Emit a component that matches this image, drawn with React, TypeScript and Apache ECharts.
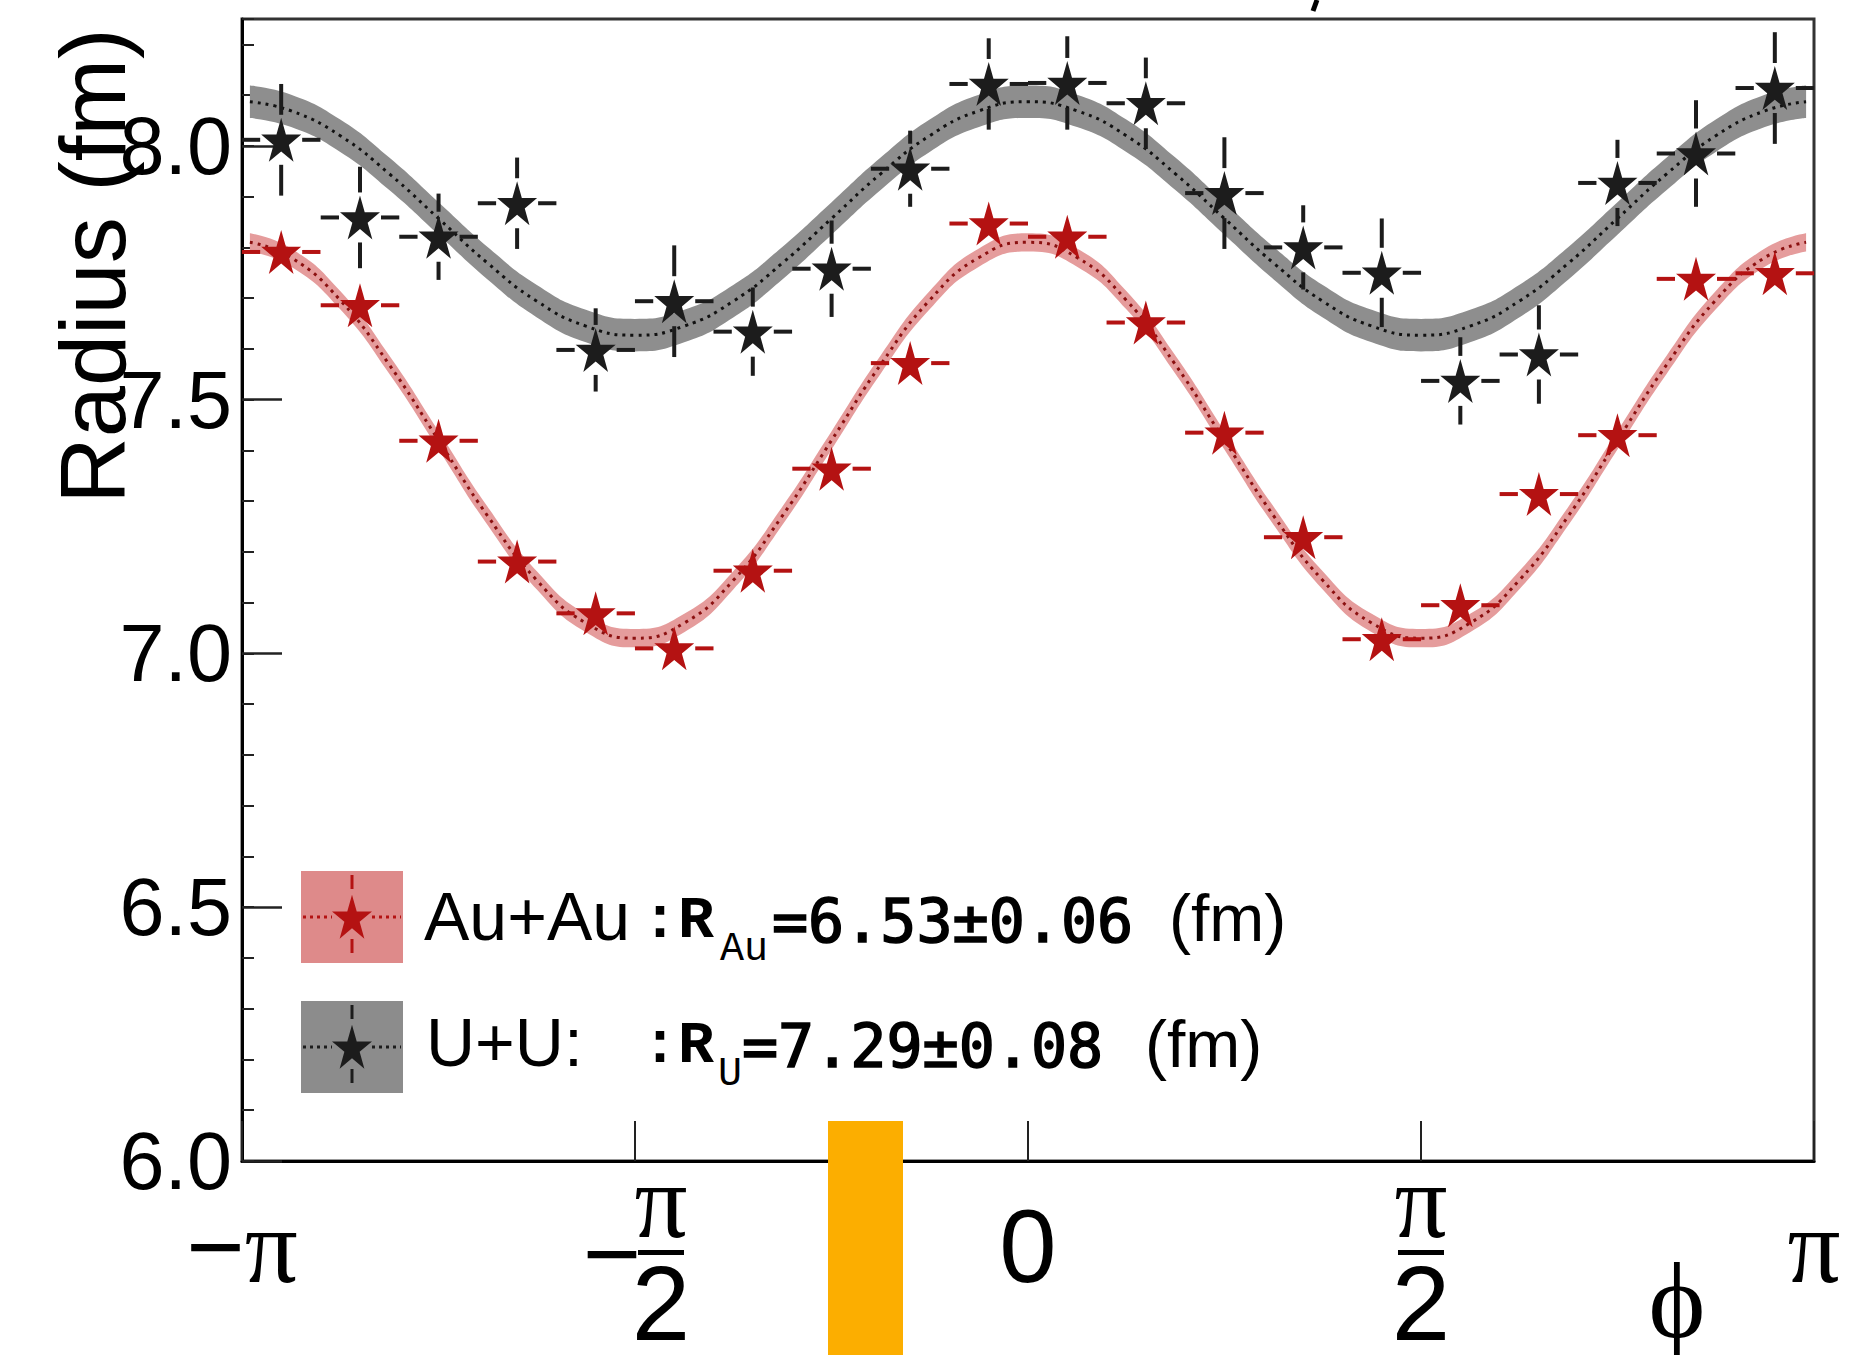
import React, { useEffect, useRef } from 'react';
import * as echarts from 'echarts';

// ---------- data ----------
const PHI_CENTERS = [-2.985, -2.670, -2.356, -2.042, -1.728, -1.414, -1.100, -0.785, -0.471, -0.157,
  0.157, 0.471, 0.785, 1.100, 1.414, 1.728, 2.042, 2.356, 2.670, 2.985];
const BIN_HALF = 0.157;

const UU_R = [8.012, 7.859, 7.821, 7.887, 7.598, 7.694, 7.634, 7.758, 7.955, 8.122,
  8.124, 8.084, 7.907, 7.800, 7.750, 7.537, 7.589, 7.927, 7.985, 8.114];
const UU_ERR = [0.11, 0.10, 0.085, 0.09, 0.082, 0.11, 0.087, 0.095, 0.075, 0.09,
  0.092, 0.09, 0.11, 0.083, 0.107, 0.086, 0.097, 0.085, 0.105, 0.11];

const AU_R = [7.791, 7.686, 7.419, 7.181, 7.079, 7.010, 7.163, 7.364, 7.572, 7.847,
  7.821, 7.652, 7.435, 7.229, 7.028, 7.095, 7.314, 7.430, 7.738, 7.749];
const AU_ERR = [0.03, 0.03, 0.03, 0.03, 0.03, 0.03, 0.03, 0.03, 0.03, 0.03,
  0.03, 0.03, 0.03, 0.03, 0.03, 0.03, 0.03, 0.03, 0.03, 0.03];

// fit curves
const CURVE_X = [-3.11, -2.945, -2.749, -2.553, -2.356, -2.160, -1.963, -1.767, -1.571, -1.374, -1.178,
  -0.982, -0.785, -0.589, -0.393, -0.196, 0, 0.196, 0.393, 0.589, 0.785, 0.982, 1.178, 1.374, 1.571,
  1.767, 1.963, 2.160, 2.356, 2.553, 2.749, 2.945, 3.11];
const UU_FIT = [8.087, 8.069, 8.020, 7.945, 7.857, 7.769, 7.694, 7.645, 7.627, 7.645, 7.694,
  7.769, 7.857, 7.945, 8.020, 8.069, 8.087, 8.069, 8.020, 7.945, 7.857, 7.769, 7.694, 7.645, 7.627,
  7.645, 7.694, 7.769, 7.857, 7.945, 8.020, 8.069, 8.087];
const AU_FIT = [7.81, 7.780, 7.696, 7.569, 7.42, 7.271, 7.144, 7.060, 7.03, 7.060, 7.144,
  7.271, 7.42, 7.569, 7.696, 7.780, 7.81, 7.780, 7.696, 7.569, 7.42, 7.271, 7.144, 7.060, 7.03,
  7.060, 7.144, 7.271, 7.42, 7.569, 7.696, 7.780, 7.81];
const UU_BAND = 0.032;
const AU_BAND = 0.018;

const X_TICK_LABELS = ['−π', '−π/2', '0', 'π/2', 'π'];
const Y_MIN = 6.0;
const Y_MAX = 8.25;
const Y_NAME = 'Radius (fm)';
const X_NAME = 'ϕ';

const LEG_AU = { name: 'Au+Au', sub: 'Au', val: '=6.53±0.06', unit: '(fm)' };
const LEG_U = { name: 'U+U:', sub: 'U', val: '=7.29±0.08', unit: '(fm)' };

// ---------- styles ----------
const SANS = '"Liberation Sans", Arial, Helvetica, sans-serif';
const SERIF = '"Liberation Serif", "DejaVu Serif", "Times New Roman", serif';
const MONO = '"DejaVu Sans Mono", monospace';
const MONO_SERIF = '"Liberation Mono", "Courier New", monospace';
const RED = '#b41212';
const BLACK = '#1c1c1c';
const STAR = 'path://M50 0 L61.23 34.55 L97.55 34.55 L68.17 55.9 L79.39 90.45 L50 69.1 L20.61 90.45 L31.83 55.9 L2.45 34.55 L38.77 34.55 Z';
const GAP_X = 21;
const GAP_Y = 25;

function starPolygon(cx: number, cy: number, w: number, h: number) {
  const pts: number[][] = [];
  for (let i = 0; i < 10; i++) {
    const a = -Math.PI / 2 + (i * Math.PI) / 5;
    const r = i % 2 === 0 ? 1 : 0.382;
    pts.push([cx + (r * Math.cos(a) * w) / 1.902, cy + (r * Math.sin(a) * h) / 1.809]);
  }
  return pts;
}

function errorBars(xs: number[], ys: number[], es: number[], color: string) {
  return {
    type: 'custom',
    z: 4,
    silent: true,
    data: xs.map((x, i) => [x, ys[i], es[i]]),
    encode: { x: 0, y: 1 },
    renderItem: (params: any, api: any) => {
      const x = api.value(0);
      const y = api.value(1);
      const e = api.value(2);
      const c = api.coord([x, y]);
      const xl = api.coord([x - BIN_HALF, y])[0];
      const xr = api.coord([x + BIN_HALF, y])[0];
      const yt = api.coord([x, y + e])[1];
      const yb = api.coord([x, y - e])[1];
      const style = { stroke: color, lineWidth: 4 };
      const ch: any[] = [];
      const seg = (x1: number, y1: number, x2: number, y2: number) =>
        ch.push({ type: 'line', shape: { x1, y1, x2, y2 }, style });
      if (c[0] - GAP_X > xl) seg(xl, c[1], c[0] - GAP_X, c[1]);
      if (xr > c[0] + GAP_X) seg(c[0] + GAP_X, c[1], xr, c[1]);
      if (c[1] - GAP_Y > yt) seg(c[0], yt, c[0], c[1] - GAP_Y);
      if (yb > c[1] + GAP_Y) seg(c[0], c[1] + GAP_Y, c[0], yb);
      return { type: 'group', children: ch };
    },
  };
}

// band = lower edge + stacked width; data columns are [y, x] so that the stack runs along y
function bandSeries(fit: number[], half: number, stack: string, color: string) {
  return [
    {
      type: 'line', stack, smooth: true, symbol: 'none', silent: true, z: 1,
      encode: { x: 1, y: 0 },
      data: CURVE_X.map((x, i) => [fit[i] - half, x]),
      lineStyle: { opacity: 0 },
    },
    {
      type: 'line', stack, smooth: true, symbol: 'none', silent: true, z: 1,
      encode: { x: 1, y: 0 },
      data: CURVE_X.map((x) => [2 * half, x]),
      lineStyle: { opacity: 0 },
      areaStyle: { color, opacity: 1 },
    },
  ];
}

function fitLine(fit: number[], color: string) {
  return {
    type: 'line', smooth: true, symbol: 'none', silent: true, z: 2,
    data: CURVE_X.map((x, i) => [x, fit[i]]),
    lineStyle: { color, width: 3, type: [3, 5] },
  };
}

function xLabel(v: number) {
  const k = Math.round(v / (Math.PI / 2)) + 2;
  const lab = X_TICK_LABELS[k] ?? '';
  const neg = lab.startsWith('−');
  const body = neg ? lab.slice(1) : lab;
  if (body.includes('/')) {
    const [num, den] = body.split('/');
    if (neg) return `{pad|}{num|${num}}\n{fm|−}{bar|}\n{pad|}{den|${den}}`;
    return `{num|${num}}\n{bar|}\n{den|${den}}`;
  }
  if (body === 'π') return neg ? `{mn|−}{pi|π}` : `{pi|π}`;
  return `{zero|${lab}}`;
}

function legendRow(cy: number, boxColor: string, color: string, d: any, textY: number, monoY: number, subX: number, valX: number, unitX: number, nameX: number) {
  const bx = 301, bw = 102, bh = 92;
  const by = cy - bh / 2;
  const cx = bx + bw / 2;
  return [
    { type: 'rect', shape: { x: bx, y: by, width: bw, height: bh }, style: { fill: boxColor }, z: 50 },
    { type: 'line', shape: { x1: bx + 2, y1: cy, x2: cx - 20, y2: cy }, style: { stroke: color, lineWidth: 3, lineDash: [3, 4] }, z: 51 },
    { type: 'line', shape: { x1: cx + 20, y1: cy, x2: bx + bw - 2, y2: cy }, style: { stroke: color, lineWidth: 3, lineDash: [3, 4] }, z: 51 },
    { type: 'line', shape: { x1: cx, y1: by + 4, x2: cx, y2: cy - 24 }, style: { stroke: color, lineWidth: 3, lineDash: [14, 8] }, z: 51 },
    { type: 'line', shape: { x1: cx, y1: cy + 22, x2: cx, y2: by + bh - 4 }, style: { stroke: color, lineWidth: 3, lineDash: [14, 8] }, z: 51 },
    { type: 'polygon', shape: { points: starPolygon(cx, cy + 2, 40, 44) }, style: { fill: color }, z: 52 },
    { type: 'text', x: nameX, y: textY, z: 52, style: { text: d.name, font: `68px ${SANS}`, fill: '#000', align: 'left', verticalAlign: 'middle' } },
    { type: 'text', x: 642, y: monoY, z: 52, style: { text: ':R', font: `bold 60px ${MONO_SERIF}`, fill: '#000', align: 'left', verticalAlign: 'middle' } },
    { type: 'text', x: subX, y: monoY + 28, z: 52, style: { text: d.sub, font: `40px ${MONO_SERIF}`, fill: '#000', align: 'left', verticalAlign: 'middle' } },
    { type: 'text', x: valX, y: monoY, z: 52, style: { text: d.val, font: `60px ${MONO}`, fill: '#000', stroke: '#000', lineWidth: 1.6, align: 'left', verticalAlign: 'middle' } },
    { type: 'text', x: unitX, y: textY + 2, z: 52, style: { text: d.unit, font: `66px ${SANS}`, fill: '#000', align: 'left', verticalAlign: 'middle' } },
  ];
}

export default function App() {
  const ref = useRef<HTMLDivElement>(null);
  useEffect(() => {
    const chart = echarts.init(ref.current as HTMLDivElement, null, { renderer: 'svg' });
    const option: any = {
      animation: false,
      backgroundColor: '#ffffff',
      grid: {
        left: 242, right: 57, top: 19, bottom: 194, show: true, borderColor: '#333', borderWidth: 3,
        backgroundColor: 'transparent', containLabel: false, outerBoundsMode: 'none',
      },
      xAxis: {
        type: 'value', min: -Math.PI, max: Math.PI, interval: Math.PI / 2,
        axisLine: { show: true, onZero: false, lineStyle: { color: '#000', width: 3 } },
        axisTick: { show: true, inside: true, length: 40, lineStyle: { color: '#222', width: 2 } },
        splitLine: { show: false },
        name: X_NAME, nameLocation: 'end', nameGap: -137,
        nameTextStyle: { fontFamily: SERIF, fontSize: 108, color: '#000', align: 'center', verticalAlign: 'top', lineHeight: 104, padding: [87, 0, 0, 0] },
        axisLabel: {
          margin: 85, verticalAlign: 'middle', color: '#000', fontFamily: SANS, fontSize: 100,
          formatter: xLabel,
          rich: {
            zero: { fontFamily: SANS, fontSize: 103, lineHeight: 80, align: 'center', color: '#000' },
            mn: { fontFamily: SANS, fontSize: 100, lineHeight: 80, align: 'center', color: '#000' },
            pi: { fontFamily: SERIF, fontSize: 105, lineHeight: 80, align: 'center', color: '#000' },
            num: { fontFamily: SERIF, fontSize: 105, lineHeight: 60, height: 60, width: 46, align: 'center', color: '#000' },
            bar: { width: 46, height: 5, lineHeight: 43, backgroundColor: '#000', align: 'center' },
            fm: { fontFamily: SANS, fontSize: 100, lineHeight: 43, height: 43, width: 52, align: 'center', color: '#000' },
            pad: { width: 52, height: 1, lineHeight: 1, align: 'center' },
            den: { fontFamily: SANS, fontSize: 105, lineHeight: 47, height: 58, verticalAlign: 'top', width: 46, align: 'center', color: '#000' },
          },
        },
      },
      yAxis: [
        {
          type: 'value', min: Y_MIN, max: Y_MAX, interval: 0.5, position: 'left',
          axisLine: { show: true, onZero: false, lineStyle: { color: '#000', width: 3 } },
          axisTick: { show: true, inside: true, length: 40, lineStyle: { color: '#222', width: 2.5 } },
          splitLine: { show: false },
          axisLabel: { margin: 10, color: '#000', fontFamily: SANS, fontSize: 81, lineHeight: 70, showMaxLabel: false, formatter: (v: number) => v.toFixed(1) },
        },
        {
          type: 'value', min: Y_MIN, max: Y_MAX, interval: 0.1, position: 'left', offset: 0,
          axisLine: { show: false, onZero: false },
          axisTick: { show: true, inside: true, length: 12, lineStyle: { color: '#222', width: 2 } },
          axisLabel: { show: false },
          splitLine: { show: false },
        },
      ],
      series: [
        ...bandSeries(UU_FIT, UU_BAND, 'uu', '#8e8e8e'),
        ...bandSeries(AU_FIT, AU_BAND, 'au', '#e59c9c'),
        fitLine(UU_FIT, '#111111'),
        fitLine(AU_FIT, '#8b1010'),
        errorBars(PHI_CENTERS, UU_R, UU_ERR, BLACK),
        errorBars(PHI_CENTERS, AU_R, AU_ERR, RED),
        { type: 'scatter', z: 5, silent: true, symbol: STAR, symbolSize: [40, 44], itemStyle: { color: BLACK, opacity: 1 },
          data: PHI_CENTERS.map((x, i) => [x, UU_R[i]]) },
        { type: 'scatter', z: 5, silent: true, symbol: STAR, symbolSize: [40, 44], itemStyle: { color: RED, opacity: 1 },
          data: PHI_CENTERS.map((x, i) => [x, AU_R[i]]) },
      ],
      graphic: [
        { type: 'text', x: 93, y: 266, rotation: Math.PI / 2, z: 60,
          style: { text: Y_NAME, font: `92px ${SANS}`, fill: '#000', align: 'center', verticalAlign: 'middle' } },
        ...legendRow(917, '#de8a8a', RED, LEG_AU, 916, 921, 720, 772, 1169, 424),
        ...legendRow(1047, '#8c8c8c', BLACK, LEG_U, 1042, 1046, 718, 742, 1145, 426),
        { type: 'line', shape: { x1: 1317, y1: 0, x2: 1313, y2: 11 }, style: { stroke: '#000', lineWidth: 5 }, z: 60 },
        { type: 'rect', shape: { x: 828, y: 1121, width: 75, height: 240 }, style: { fill: '#fcae00' }, z: 100 },
      ],
    };
    chart.setOption(option);
    return () => chart.dispose();
  }, []);
  return <div ref={ref} style={{ position: 'absolute', left: 0, top: 0, width: 1871, height: 1355, background: '#fff' }} />;
}
